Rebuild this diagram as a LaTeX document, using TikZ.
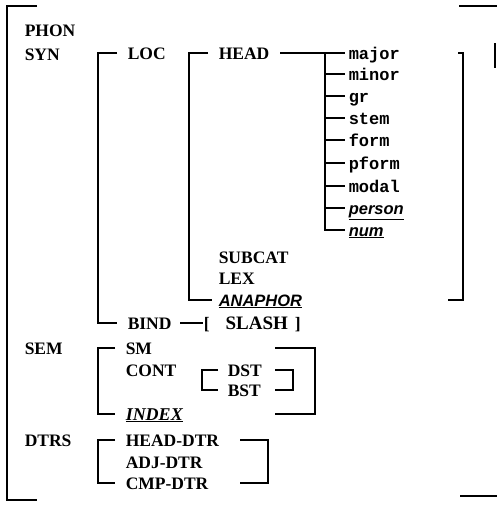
\documentclass[tikz,border=0pt]{standalone}
\usepackage{fontspec}
\setmainfont{Liberation Serif}
\newfontfamily\monof{Liberation Mono}
\newfontfamily\sansf{Liberation Sans}
\usetikzlibrary{calc}
\begin{document}
\begin{tikzpicture}[x=1pt,y=-1pt,line width=1.5pt,
  lab/.style={anchor=base west,inner sep=0pt,text height=12pt,text depth=0pt,font=\bfseries\fontsize{17.5}{18}\selectfont},
  feat/.style={anchor=base west,inner sep=0pt,text height=12pt,text depth=0pt,font=\monof\bfseries\fontsize{17}{17}\selectfont},
  ifeat/.style={anchor=base west,inner sep=0pt,text height=12pt,text depth=0pt,font=\sansf\bfseries\itshape\fontsize{16.5}{17}\selectfont},
  brk/.style={line width=1.5pt}]
\useasboundingbox (0,0) rectangle (497,506);
% outer bracket
\draw[brk] (37,6) -- (7,6) -- (7,500) -- (37,500);
\draw[brk] (459,6) -- (497,6);
\draw[brk] (460,496) -- (497,496);
\draw[line width=1.2pt] (495,43) -- (495,68);
% labels
\node[lab] (phon) at (24,36) {PHON};
\node[lab] (syn) at (24,60) {SYN};
\node[lab] (loc) at (127,59) {LOC};
\node[lab] (head) at (218,59) {HEAD};
\node[feat] (major) at (348,59) {major};
\node[feat] (minor) at (348,80) {minor};
\node[feat] (gr) at (348,102) {gr};
\node[feat] (stem) at (348,124) {stem};
\node[feat] (form) at (348,146) {form};
\node[feat] (pform) at (348,169) {pform};
\node[feat] (modal) at (348,192) {modal};
\node[ifeat] (person) at (348,214) {\underline{person}};
\node[ifeat] (num) at (348,236) {\underline{num}};
\node[lab] (subcat) at (218,263) {SUBCAT};
\node[lab] (lex) at (218,284) {LEX};
\node[ifeat] (anaphor) at (218,306) {\underline{ANAPHOR}};
\node[lab] (bind) at (127,329) {BIND};
\node[lab] (slash) at (203,329) {[\hspace{16pt}{\fontsize{19}{19}\selectfont SLASH}\hspace{7pt}]};
\node[lab] (sem) at (24,354) {SEM};
\node[lab] (sm) at (125,354) {SM};
\node[lab] (cont) at (125,376) {CONT};
\node[lab] (dst) at (227,376) {DST};
\node[lab] (bst) at (227,396) {BST};
\node[lab,font=\bfseries\itshape\fontsize{18}{18}\selectfont] (index) at (125,420) {\underline{INDEX}};
\node[lab] (dtrs) at (24,446) {DTRS};
\node[lab] (hdtr) at (125,446) {HEAD-DTR};
\node[lab] (adtr) at (125,468) {ADJ-DTR};
\node[lab] (cdtr) at (125,489) {CMP-DTR};
% LOC bracket
\draw[brk] ([xshift=-10pt]loc.west) -- ([xshift=-29pt]loc.west) |- ([xshift=-10pt]bind.west);
% HEAD bracket
\draw[brk] ([xshift=-10pt]head.west) -- ([xshift=-29pt]head.west) |- ([xshift=-6pt]anaphor.west);
% HEAD features
\draw[brk] ([xshift=10pt]head.east) -- ([xshift=-3pt]major.west);
\draw[brk] ([xshift=-23pt]major.west) |- ([xshift=-3pt]num.west);
\foreach \f in {minor,gr,stem,form,pform,modal,person}
  \draw[brk] ([xshift=-23pt]\f.west) -- ([xshift=-3pt]\f.west);
% big right bracket
\coordinate (hbr) at (463,0);
\draw[brk] ([xshift=-5pt]hbr |- major.west) -- (hbr |- major.west) -- (hbr |- anaphor.west) -- ([xshift=-15pt]hbr |- anaphor.west);
% BIND
\draw[brk] ([xshift=8pt]bind.east) -- (slash.west);
% SEM bracket
\draw[brk] ([xshift=-10pt]sm.west) -- ([xshift=-27pt]sm.west) |- ([xshift=-10pt]index.west);
\coordinate (semr) at (315,0);
\draw[brk] ([xshift=-40pt]semr |- sm.west) -- (semr |- sm.west) -- (semr |- index.west) -- ([xshift=-40pt]semr |- index.west);
% DST bracket
\draw[brk] ([xshift=-9pt]dst.west) -- ([xshift=-25pt]dst.west) |- ([xshift=-9pt]bst.west);
\coordinate (dstr) at (293,0);
\draw[brk] ([xshift=-18pt]dstr |- dst.west) -- (dstr |- dst.west) -- (dstr |- bst.west) -- ([xshift=-18pt]dstr |- bst.west);
% DTRS bracket
\draw[brk] ([xshift=-10pt]hdtr.west) -- ([xshift=-27pt]hdtr.west) |- ([xshift=-10pt]cdtr.west);
\coordinate (dtrr) at (268,0);
\draw[brk] ([xshift=-28pt]dtrr |- hdtr.west) -- (dtrr |- hdtr.west) -- (dtrr |- cdtr.west) -- ([xshift=-28pt]dtrr |- cdtr.west);
\end{tikzpicture}
\end{document}
